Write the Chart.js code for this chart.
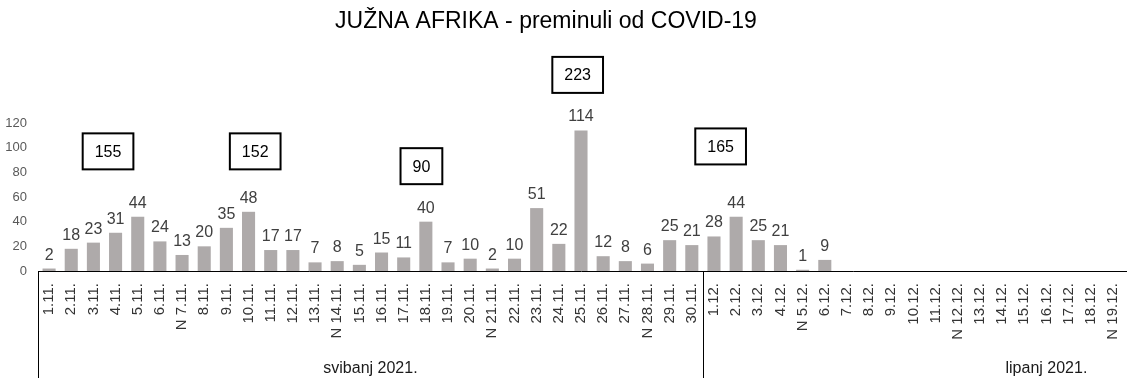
<!DOCTYPE html>
<html>
<head>
<meta charset="utf-8">
<script src="https://cdn.jsdelivr.net/npm/chart.js@4/dist/chart.umd.min.js"></script>
<style>
html, body { margin: 0; padding: 0; background: #fff; }
</style>
</head>
<body>
<canvas id="preminuli" width="1127" height="387"></canvas>
<script>
// Podaci
const dani = ["1.11.", "2.11.", "3.11.", "4.11.", "5.11.", "6.11.", "N 7.11.", "8.11.", "9.11.", "10.11.",
  "11.11.", "12.11.", "13.11.", "N 14.11.", "15.11.", "16.11.", "17.11.", "18.11.", "19.11.", "20.11.",
  "N 21.11.", "22.11.", "23.11.", "24.11.", "25.11.", "26.11.", "27.11.", "N 28.11.", "29.11.", "30.11.",
  "1.12.", "2.12.", "3.12.", "4.12.", "N 5.12.", "6.12.", "7.12.", "8.12.", "9.12.", "10.12.",
  "11.12.", "N 12.12.", "13.12.", "14.12.", "15.12.", "16.12.", "17.12.", "18.12.", "N 19.12."];
const preminuli = [2, 18, 23, 31, 44, 24, 13, 20, 35, 48,
  17, 17, 7, 8, 5, 15, 11, 40, 7, 10,
  2, 10, 51, 22, 114, 12, 8, 6, 25, 21,
  28, 44, 25, 21, 1, 9, null, null, null, null,
  null, null, null, null, null, null, null, null, null];
const tjedniZbroj = [155, 152, 90, 223, 165];
const mjeseci = ["svibanj 2021.", "lipanj 2021."];
const naslov = 'JUŽNA AFRIKA - preminuli od COVID-19';

// Pozicije (stil)
const kutijaX = [2.66, 9.3, 16.8, 23.85, 30.3];
const kutijaY = [97, 97, 85, 159, 101];
const mjesecX = [14.5, 45];
const granica = 29.5;

const font = "'Liberation Sans', Arial, sans-serif";
Chart.defaults.font.family = font;

const oznake = {
  id: 'oznake',
  afterDatasetsDraw(chart) {
    const ctx = chart.ctx;
    const meta = chart.getDatasetMeta(0);
    ctx.save();
    ctx.font = "16px " + font;
    ctx.fillStyle = "#404040";
    ctx.textAlign = "center";
    ctx.textBaseline = "alphabetic";
    meta.data.forEach((bar, i) => {
      const v = preminuli[i];
      if (v === null) return;
      ctx.fillText(String(v), bar.x, bar.y - 9);
    });
    ctx.restore();
  },
  afterDraw(chart) {
    const ctx = chart.ctx;
    const x = chart.scales.x;
    const y = chart.scales.y;
    const area = chart.chartArea;
    ctx.save();

    // naslov
    ctx.font = "23px " + font;
    ctx.fillStyle = "#000";
    ctx.textAlign = "center";
    ctx.textBaseline = "middle";
    ctx.fillText(naslov, 546, 22);

    // tjedni zbrojevi u okvirima
    ctx.font = "16px " + font;
    tjedniZbroj.forEach((z, i) => {
      const cx = x.getPixelForValue(kutijaX[i]);
      const cy = y.getPixelForValue(kutijaY[i]);
      const w = ctx.measureText(String(z)).width + 24;
      const h = 36;
      ctx.fillStyle = "#fff";
      ctx.fillRect(cx - w / 2, cy - h / 2, w, h);
      ctx.lineWidth = 2;
      ctx.strokeStyle = "#000";
      ctx.strokeRect(cx - w / 2, cy - h / 2, w, h);
      ctx.fillStyle = "#000";
      ctx.fillText(String(z), cx, cy + 1);
    });

    // linije grupa
    ctx.strokeStyle = "#000";
    ctx.lineWidth = 1;
    const xs = [area.left, x.getPixelForValue(granica)];
    xs.forEach(px => {
      const p = Math.round(px) + 0.5;
      ctx.beginPath();
      ctx.moveTo(p, area.bottom);
      ctx.lineTo(p, 378);
      ctx.stroke();
    });
    ctx.beginPath();
    ctx.moveTo(area.right, Math.round(area.bottom) + 0.5);
    ctx.lineTo(1127, Math.round(area.bottom) + 0.5);
    ctx.stroke();

    // nazivi mjeseci
    ctx.font = "16px " + font;
    ctx.fillStyle = "#1a1a1a";
    ctx.textBaseline = "alphabetic";
    mjeseci.forEach((m, i) => {
      ctx.fillText(m, x.getPixelForValue(mjesecX[i]), 373);
    });
    ctx.restore();
  }
};

new Chart(document.getElementById('preminuli'), {
  type: 'bar',
  data: {
    labels: dani,
    datasets: [
      {
        data: preminuli,
        backgroundColor: "#AEAAAA",
        barPercentage: 0.59,
        categoryPercentage: 1.0
      }
    ]
  },
  options: {
    responsive: false,
    animation: false,
    layout: {
      padding: { left: 0, right: 3, top: 123, bottom: 0 }
    },
    plugins: {
      legend: { display: false },
      tooltip: { enabled: false },
      title: { display: false }
    },
    scales: {
      x: {
        grid: { display: false, drawTicks: false },
        border: { display: true, color: '#000', width: 1 },
        ticks: {
          autoSkip: false,
          maxRotation: 90,
          minRotation: 90,
          padding: 12,
          color: '#333',
          font: { size: 15 }
        },
        afterFit: (s) => {
          s.height = 116;
          s.paddingLeft = 0;
          s.paddingRight = 0;
        }
      },
      y: {
        min: 0,
        max: 120,
        grid: { display: false, drawTicks: false },
        border: { display: false },
        ticks: {
          stepSize: 20,
          padding: 11,
          color: '#595959',
          font: { size: 13 }
        },
        afterFit: (s) => { s.width = 38; }
      }
    }
  },
  plugins: [oznake]
});
</script>
</body>
</html>
